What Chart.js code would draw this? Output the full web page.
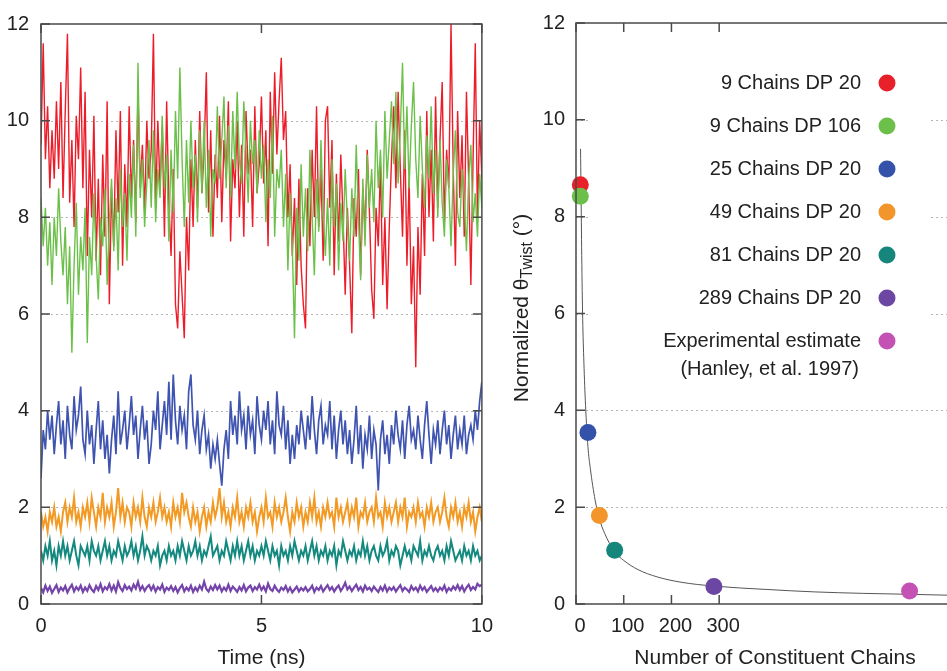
<!DOCTYPE html>
<html>
<head>
<meta charset="utf-8">
<script src="https://cdn.jsdelivr.net/npm/chart.js@4.4.0/dist/chart.umd.min.js"></script>
<style>
  html, body { margin: 0; padding: 0; background: #fff; overflow: hidden; }
  body { width: 947px; height: 671px; position: relative; }
  #left { position: absolute; left: 0; top: 0; }
  #right { position: absolute; left: 490px; top: 0; }
</style>
</head>
<body>
<canvas id="left" width="503" height="671"></canvas>
<canvas id="right" width="510" height="671"></canvas>
<script>
// ---- left panel: twist angle vs time, one sample every 0.05 ns ----
const TIME_STEP = 0.05;

const red9dp20 = [
  9.5, 11.6, 9.2, 10.3, 8.6, 9.8, 8.8, 10.4, 9.0, 10.8,
  8.4, 10.2, 11.8, 8.3, 9.6, 7.8, 10.1, 9.2, 11.1, 8.6,
  10.6, 7.2, 9.4, 8.0, 10.1, 7.1, 8.8, 6.8, 9.3, 7.6,
  10.4, 6.2, 8.6, 7.4, 9.8, 8.1, 10.2, 7.0, 9.1, 7.8,
  10.3, 8.4, 9.6, 7.9, 10.6, 8.6, 9.5, 8.1, 10.0, 8.8,
  9.4, 11.8, 8.2, 10.0, 8.6, 9.9, 7.6, 10.4, 8.3, 7.2,
  9.0, 6.2, 5.7, 7.3, 6.4, 5.5, 8.0, 6.9, 9.2, 7.8,
  9.6, 8.2, 10.2, 8.5, 9.4, 11.0, 8.1, 9.8, 7.6, 9.3,
  8.4, 10.1, 7.9, 9.6, 8.8, 10.4, 7.5, 9.2, 8.6, 10.0,
  8.0, 9.5, 7.6, 10.2, 8.9, 9.4, 7.8, 10.3, 8.5, 9.1,
  10.5, 8.7, 9.8, 7.4, 10.6, 8.9, 11.0, 9.3, 10.4, 11.3,
  9.6, 10.2, 8.0, 9.1, 7.2, 8.4, 6.6, 8.8, 7.0, 6.2,
  5.7, 8.6, 7.4, 9.4, 8.0, 10.3, 7.8, 9.0, 7.1, 10.0,
  10.3, 8.2, 9.6, 6.8, 8.9, 7.5, 9.3, 8.0, 6.4, 8.2,
  7.0, 5.6, 8.4, 7.6, 9.0, 6.8, 8.6, 7.7, 9.4, 8.1,
  6.5, 5.9, 8.2, 7.4, 9.1, 6.6, 8.0, 6.1, 7.8, 9.2,
  10.3, 8.6, 10.6, 9.0, 7.6, 9.8, 7.0, 8.8, 6.2, 7.4,
  4.9, 7.8, 6.4, 8.9, 7.2, 10.2, 8.0, 9.4, 7.5, 10.5,
  8.2, 9.6, 10.8, 7.9, 9.4, 8.6, 12.0, 9.0, 7.0, 10.2,
  8.4, 9.7, 7.6, 10.6, 8.8, 6.6, 9.2, 11.6, 8.0, 10.0,
  8.8
];

const green9dp106 = [
  8.4, 7.4, 8.2, 7.0, 7.9, 6.6, 8.0, 7.2, 8.6, 7.5,
  6.8, 7.8, 6.2, 7.4, 5.2, 7.0, 8.3, 6.4, 7.6, 6.9,
  8.2, 5.4, 7.6, 6.8, 8.5, 7.2, 6.3, 8.0, 7.4, 8.6,
  6.6, 7.9, 8.8, 7.3, 8.4, 6.9, 9.0, 7.8, 8.5, 7.1,
  8.9, 8.0, 9.5, 7.6, 11.2, 8.4, 9.2, 7.8, 8.7, 9.6,
  8.2, 9.8, 7.9, 9.0, 8.4, 10.1, 8.6, 9.3, 7.5, 9.4,
  8.1, 10.2, 8.8, 11.1, 9.2, 7.8, 9.6, 8.3, 10.0, 8.6,
  9.3, 7.9, 9.8, 8.5, 10.0, 8.2, 9.4, 7.6, 9.0, 8.7,
  10.3, 8.8, 9.6, 10.5, 8.6, 9.9, 8.4, 10.2, 9.0, 10.6,
  9.2, 8.7, 10.4, 9.4, 8.3, 10.0, 9.1, 9.6, 8.5, 9.8,
  8.8, 9.5, 7.9, 9.2, 8.4, 10.1, 7.6, 9.0, 8.6, 9.4,
  7.8, 8.9, 6.9, 8.5, 7.4, 5.5, 8.2, 7.1, 9.1, 7.6,
  8.6, 7.3, 9.4, 8.0, 6.8, 8.8, 7.7, 9.6, 8.1, 7.2,
  8.4, 7.0, 9.2, 7.8, 8.7, 6.9, 8.3, 7.5, 9.0, 7.9,
  7.1, 8.6, 7.6, 9.5, 8.0, 6.7, 8.8, 7.4, 9.3, 8.2,
  9.0, 7.9, 10.0, 8.6, 9.4, 8.0, 10.2, 8.8, 9.6, 10.4,
  9.1, 10.6, 8.7, 9.8, 11.2, 9.0, 10.3, 8.6, 9.9, 10.8,
  9.2, 8.4, 10.1, 9.0, 8.2, 9.7, 8.8, 10.3, 8.5, 9.4,
  8.0, 9.6, 8.3, 7.6, 9.2, 8.6, 7.4, 8.9, 9.8, 8.1,
  7.8, 9.0, 8.4, 7.3, 8.8, 9.5, 7.9, 8.5, 7.6, 8.9,
  8.2
];

const blue25dp20 = [
  2.6, 3.6, 3.2, 4.0, 3.4, 3.9, 3.1, 3.7, 4.2, 3.3,
  3.8, 3.0, 4.1, 3.5, 3.2, 4.3, 3.6, 3.9, 4.5, 3.4,
  3.1, 4.0, 3.3, 3.7, 2.9, 3.6, 4.2, 3.2, 3.8, 3.0,
  3.5, 2.7, 3.4, 3.9, 3.1, 4.4, 3.3, 3.6, 4.0, 3.2,
  3.7, 4.3, 3.5, 3.9, 3.0, 3.6, 4.1, 3.4, 3.8, 2.9,
  3.3, 4.0, 3.6, 4.4, 3.2, 3.7, 4.2, 3.5, 4.6, 3.4,
  4.75, 3.8, 3.3, 4.1, 3.6, 3.9, 3.2, 4.4, 4.75, 3.7,
  3.4, 4.0, 3.1, 3.6, 3.9, 3.2, 3.5, 2.8, 3.3, 3.0,
  3.4, 2.9, 2.45, 3.2, 3.6, 3.0, 4.2, 3.5, 3.9, 3.3,
  4.4, 3.6, 3.9, 3.2, 4.1, 3.5, 3.8, 3.1, 4.3, 3.7,
  3.4, 4.0, 3.6, 4.2, 3.3, 3.8, 3.1, 4.4, 3.7, 3.5,
  4.1, 3.2, 3.8, 2.9, 3.5, 3.0, 3.7, 3.3, 4.0, 3.6,
  3.2, 3.9, 3.4, 4.3, 3.6, 3.1, 3.8, 4.1, 3.3, 3.7,
  3.5, 4.2, 3.2, 3.9, 3.0, 3.6, 4.0, 3.3, 3.8, 3.1,
  3.6, 2.9, 3.4, 4.1, 3.1, 3.7, 2.8, 3.5, 3.2, 3.9,
  3.0, 3.6, 3.3, 2.35, 3.4, 3.8, 3.1, 3.5, 2.9, 3.7,
  3.3, 4.0, 3.5, 3.2, 3.8, 3.0, 3.7, 4.1, 3.4, 3.6,
  3.2, 3.9, 3.4, 3.0, 3.7, 4.2, 3.5, 2.9, 3.6, 3.3,
  3.8, 3.1, 3.6, 4.0, 3.3, 3.7, 3.0, 3.5, 3.9, 3.2,
  3.6, 3.3, 3.9, 3.1, 3.5, 3.7, 3.4, 4.0, 3.6, 4.2,
  4.6
];

const orange49dp20 = [
  1.9, 1.6, 1.8, 1.5, 1.9, 1.7, 2.0, 1.6, 1.8, 1.5,
  1.9, 2.1, 1.7, 2.0, 1.8, 2.2, 1.7, 1.9, 1.6, 2.0,
  1.8, 2.1, 1.7, 2.2, 1.9, 1.6, 2.0, 1.8, 2.3, 1.7,
  2.0, 1.8, 2.1, 1.6, 1.9, 2.4, 1.8, 2.1, 1.7, 2.0,
  1.9, 1.6, 2.1, 1.8, 2.0, 1.7, 2.2, 1.8, 1.6, 2.0,
  1.8, 2.1, 1.7, 1.9, 2.2, 1.8, 2.0, 1.7, 1.9, 1.6,
  2.1, 1.8, 2.0, 1.7, 2.3, 1.9, 2.1, 1.8, 1.6, 2.0,
  1.7, 1.9, 1.5, 1.8, 2.0, 1.6, 1.9, 1.7, 2.1, 1.8,
  2.0, 2.4, 1.8, 2.1, 1.7, 1.9, 1.6, 2.0, 1.8, 2.2,
  1.7, 1.9, 1.6, 2.0, 1.8, 2.1, 1.7, 1.9, 1.5, 1.8,
  2.0, 1.7, 2.2, 1.8, 1.9, 1.6, 2.1, 1.8, 2.0, 1.7,
  1.9, 2.2, 1.8, 1.5, 1.9, 1.7, 2.1, 1.8, 2.0, 1.6,
  1.9, 1.7, 2.1, 1.8, 2.2, 1.7, 1.9, 1.6, 2.0, 1.8,
  2.1, 1.8, 1.9, 1.6, 2.2, 1.8, 2.0, 1.7, 1.9, 2.1,
  1.7, 2.0, 1.8, 2.2, 1.6, 1.9, 1.8, 2.1, 1.7, 1.9,
  2.0, 1.7, 2.2, 1.8, 1.9, 1.6, 2.1, 1.8, 2.0, 1.7,
  1.9, 2.1, 1.7, 2.0, 1.8, 2.2, 1.6, 1.9, 1.8, 2.0,
  1.7, 2.1, 1.8, 1.9, 1.6, 2.0, 1.8, 2.1, 1.7, 1.9,
  2.0, 1.7, 1.9, 2.2, 1.8, 1.6, 2.0, 1.8, 2.1, 1.7,
  1.9, 1.6, 2.0, 1.8, 2.1, 1.7, 1.9, 1.5, 1.8, 2.0,
  1.7
];

const teal81dp20 = [
  1.1, 0.9, 1.2, 1.0, 1.3, 0.9, 1.1, 0.8, 1.2, 1.0,
  1.3, 1.0, 1.2, 0.9, 1.1, 1.3, 1.0, 0.8, 1.2, 1.1,
  1.0, 1.2, 0.9, 1.3, 1.1, 1.0, 1.2, 0.9, 1.1, 1.3,
  1.0, 1.2, 0.9, 1.1, 1.0, 1.3, 1.1, 0.9, 1.2, 1.0,
  1.1, 1.3, 1.0, 1.2, 0.9, 1.1, 1.4, 1.0, 1.2, 1.1,
  0.9, 1.1, 1.0, 1.2, 0.8, 1.0, 1.1, 0.9, 1.2, 1.0,
  1.1, 0.9, 1.2, 1.0, 1.3, 1.1, 0.9, 1.2, 1.0, 1.1,
  1.3, 1.0, 1.2, 0.9, 1.1, 1.0, 1.2, 1.4, 1.0, 1.1,
  1.2, 0.9, 1.1, 1.0, 1.3, 1.1, 0.9, 1.2, 1.0, 1.3,
  1.0, 1.2, 0.9, 1.1, 1.3, 1.0, 1.2, 0.9, 1.1, 1.0,
  1.2, 1.0, 1.3, 1.1, 0.9, 1.2, 1.0, 1.1, 0.8, 1.2,
  1.0, 1.1, 0.9, 1.2, 1.0, 1.3, 1.1, 0.9, 1.1, 1.0,
  1.2, 0.9, 1.1, 1.3, 1.0, 1.2, 0.9, 1.1, 1.0, 1.2,
  0.9, 1.1, 1.0, 1.2, 0.8, 1.1, 1.0, 1.3, 1.1, 0.9,
  1.1, 1.0, 1.2, 0.9, 1.1, 1.0, 1.3, 1.0, 1.2, 0.9,
  1.1, 1.2, 1.0, 0.9, 1.2, 1.0, 1.1, 1.3, 0.9, 1.1,
  1.0, 1.2, 1.1, 0.8, 1.0, 1.2, 1.0, 1.1, 0.9, 1.2,
  1.1, 1.0, 1.3, 0.9, 1.1, 1.0, 1.2, 1.0, 0.9, 1.1,
  1.2, 1.0, 1.1, 0.9, 1.2, 1.0, 1.3, 1.1, 0.9, 1.0,
  1.1, 0.9, 1.2, 1.0, 1.1, 0.9, 1.2, 1.0, 1.1, 0.9,
  1.0
];

const purple289dp20 = [
  0.33, 0.24, 0.38, 0.27, 0.36, 0.23, 0.31, 0.39, 0.25, 0.34,
  0.28, 0.37, 0.24, 0.33, 0.40, 0.26, 0.35, 0.29, 0.38, 0.25,
  0.34, 0.27, 0.39, 0.30, 0.25, 0.37, 0.29, 0.41, 0.26, 0.35,
  0.30, 0.41, 0.28, 0.38, 0.26, 0.45, 0.33, 0.27, 0.39, 0.31,
  0.36, 0.28, 0.40, 0.32, 0.46, 0.29, 0.37, 0.27, 0.35, 0.39,
  0.29, 0.38, 0.26, 0.35, 0.30, 0.40, 0.25, 0.34, 0.29, 0.37,
  0.27, 0.35, 0.24, 0.33, 0.39, 0.26, 0.34, 0.28, 0.38, 0.25,
  0.34, 0.27, 0.38, 0.30, 0.46, 0.31, 0.26, 0.36, 0.29, 0.39,
  0.30, 0.38, 0.26, 0.34, 0.28, 0.40, 0.27, 0.36, 0.31, 0.25,
  0.35, 0.28, 0.39, 0.26, 0.34, 0.38, 0.27, 0.35, 0.30, 0.40,
  0.29, 0.36, 0.26, 0.42, 0.31, 0.27, 0.38, 0.30, 0.25, 0.34,
  0.29, 0.37, 0.26, 0.34, 0.24, 0.30, 0.36, 0.26, 0.33, 0.28,
  0.35, 0.26, 0.31, 0.38, 0.25, 0.34, 0.29, 0.37, 0.26, 0.33,
  0.39, 0.29, 0.35, 0.26, 0.33, 0.38, 0.27, 0.34, 0.44, 0.30,
  0.36, 0.27, 0.34, 0.40, 0.29, 0.35, 0.26, 0.38, 0.30, 0.34,
  0.27, 0.36, 0.30, 0.25, 0.35, 0.28, 0.38, 0.26, 0.34, 0.29,
  0.35, 0.26, 0.33, 0.39, 0.27, 0.34, 0.30, 0.25, 0.37, 0.29,
  0.34, 0.26, 0.38, 0.29, 0.35, 0.25, 0.31, 0.37, 0.27, 0.33,
  0.26, 0.34, 0.29, 0.38, 0.25, 0.33, 0.28, 0.36, 0.30, 0.39,
  0.29, 0.37, 0.26, 0.34, 0.40, 0.29, 0.35, 0.30, 0.42, 0.37,
  0.40
];

// ---- right panel: mean twist vs number of chains ----
const seriesNames = [
  "9 Chains DP 20", "9 Chains DP 106", "25 Chains DP 20", "49 Chains DP 20",
  "81 Chains DP 20", "289 Chains DP 20", "Experimental estimate"
];
const chainCounts = [9, 9, 25, 49, 81, 289, 699];
const meanTwist = [8.66, 8.42, 3.54, 1.83, 1.11, 0.36, 0.27];
const colors = ["#e8202a", "#6cc04a", "#3552aa", "#f2962b", "#16867c", "#6b46a2", "#c452b4"];

// fitted curve
const fitX = [9.5, 10.5, 12, 14, 16.5, 20, 25, 30, 40, 49, 60, 81, 100, 130, 170, 220, 289, 400, 500, 600, 700, 834];
const fitY = [9.4, 8.6, 7.2, 5.9, 5.0, 4.1, 3.25, 2.8, 2.15, 1.76, 1.46, 1.08, 0.9, 0.71, 0.56, 0.45, 0.37, 0.3, 0.25, 0.22, 0.2, 0.17];

const leftTicksX = [0, 5, 10];
const yTicks = [0, 2, 4, 6, 8, 10, 12];
const rightTicksX = [0, 100, 200, 300];

const FONT = '"Liberation Sans", Arial, sans-serif';
const TEXT = "#222";

Chart.defaults.font.family = FONT;
Chart.defaults.color = TEXT;

const asPoints = (arr) => arr.map((v, i) => ({ x: i * TIME_STEP, y: v }));

function trace(data, color, width) {
  return {
    data: asPoints(data),
    showLine: true,
    borderColor: color,
    borderWidth: width,
    pointRadius: 0,
    tension: 0
  };
}

// dotted grid, frame and inward ticks (gnuplot look)
const framePlugin = {
  id: "frame",
  beforeDatasetsDraw(chart, args, opts) {
    const { ctx, chartArea: a, scales } = chart;
    ctx.save();
    ctx.strokeStyle = "#b5b5b5";
    ctx.lineWidth = 1;
    ctx.setLineDash([2, 3]);
    opts.gridY.forEach((v) => {
      const py = Math.round(scales.y.getPixelForValue(v)) + 0.5;
      ctx.beginPath();
      ctx.moveTo(a.left, py);
      ctx.lineTo(a.right, py);
      ctx.stroke();
    });
    ctx.restore();
    if (opts.legendBox) {
      const b = opts.legendBox;
      ctx.save();
      ctx.fillStyle = "#fff";
      ctx.fillRect(b[0], b[1], b[2], b[3]);
      ctx.restore();
    }
  },
  afterDatasetsDraw(chart, args, opts) {
    const { ctx, chartArea: a, scales } = chart;
    const len = 9;
    ctx.save();
    ctx.strokeStyle = "#4a4a4a";
    ctx.lineWidth = 1.5;
    ctx.beginPath();
    opts.ticksY.forEach((v) => {
      const py = scales.y.getPixelForValue(v);
      ctx.moveTo(a.left, py); ctx.lineTo(a.left + len, py);
      ctx.moveTo(a.right, py); ctx.lineTo(a.right - len, py);
    });
    opts.ticksX.forEach((v) => {
      const px = scales.x.getPixelForValue(v);
      ctx.moveTo(px, a.bottom); ctx.lineTo(px, a.bottom - len);
      ctx.moveTo(px, a.top); ctx.lineTo(px, a.top + len);
    });
    ctx.stroke();
    ctx.strokeRect(a.left, a.top, a.right - a.left, a.bottom - a.top);
    ctx.restore();
  }
};

new Chart(document.getElementById("left"), {
  type: "scatter",
  data: {
    datasets: [
      trace(purple289dp20, "#7444aa", 2.2),
      trace(teal81dp20, "#14897f", 2),
      trace(orange49dp20, "#f39a25", 2),
      trace(blue25dp20, "#3f54b0", 1.7),
      trace(green9dp106, "#6cc04a", 1.4),
      trace(red9dp20, "#ec1c28", 1.4)
    ]
  },
  options: {
    responsive: false,
    animation: false,
    devicePixelRatio: 1,
    events: [],
    layout: { padding: { top: 20, right: 0, left: 0, bottom: 0 } },
    plugins: {
      legend: { display: false },
      tooltip: { enabled: false },
      frame: { gridY: [2, 4, 6, 8, 10], ticksY: yTicks, ticksX: leftTicksX }
    },
    scales: {
      x: {
        type: "linear", min: 0, max: 10,
        grid: { display: false, drawTicks: false },
        border: { display: false },
        ticks: { stepSize: 5, padding: 10, maxRotation: 0, autoSkip: false, font: { size: 20 } },
        title: { display: true, text: "Time (ns)", font: { size: 21 }, padding: { top: 4, bottom: 0 } },
        afterFit: (s) => { s.height = 67; }
      },
      y: {
        min: 0, max: 12,
        grid: { display: false, drawTicks: false },
        border: { display: false },
        ticks: { stepSize: 2, padding: 12, font: { size: 20 } },
        afterFit: (s) => { s.width = 41; }
      }
    }
  },
  plugins: [framePlugin]
});

// legend on the right panel, drawn as text with a dot to the right
const legendPlugin = {
  id: "dotLegend",
  afterDraw(chart) {
    const { ctx } = chart;
    const rowY = [83, 126, 169, 212, 255, 298, 341];
    ctx.save();
    ctx.font = "20px " + FONT;
    ctx.fillStyle = TEXT;
    ctx.textAlign = "right";
    ctx.textBaseline = "middle";
    seriesNames.forEach((name, i) => {
      ctx.fillStyle = TEXT;
      ctx.fillText(name, 371, rowY[i]);
      ctx.fillStyle = colors[i];
      ctx.beginPath();
      ctx.arc(397, rowY[i], 8.5, 0, Math.PI * 2);
      ctx.fill();
    });
    ctx.fillStyle = TEXT;
    ctx.fillText("(Hanley, et al. 1997)", 369, 369);

    // y title with subscript
    ctx.translate(32, 308);
    ctx.rotate(-Math.PI / 2);
    ctx.textAlign = "left";
    ctx.textBaseline = "middle";
    const big = "21px " + FONT, small = "16px " + FONT;
    ctx.font = big; const w1 = ctx.measureText("Normalized \u03b8").width;
    ctx.font = small; const w2 = ctx.measureText("Twist").width;
    ctx.font = big; const w3 = ctx.measureText(" (\u00b0)").width;
    let x0 = -(w1 + w2 + w3) / 2;
    ctx.font = big; ctx.fillText("Normalized \u03b8", x0, 0);
    ctx.font = small; ctx.fillText("Twist", x0 + w1, 6);
    ctx.font = big; ctx.fillText(" (\u00b0)", x0 + w1 + w2, 0);
    ctx.restore();
  }
};

new Chart(document.getElementById("right"), {
  type: "scatter",
  data: {
    datasets: [
      {
        data: chainCounts.map((c, i) => ({ x: c, y: meanTwist[i] })),
        pointRadius: 8.5,
        pointBorderWidth: 0,
        pointBackgroundColor: colors,
        clip: false,
        order: 1
      },
      {
        data: fitX.map((x, i) => ({ x: x, y: fitY[i] })),
        showLine: true,
        borderColor: "#555",
        borderWidth: 1,
        pointRadius: 0,
        cubicInterpolationMode: "monotone",
        order: 2
      }
    ]
  },
  options: {
    responsive: false,
    animation: false,
    devicePixelRatio: 1,
    events: [],
    layout: { padding: { top: 20, right: 26, left: 0, bottom: 0 } },
    plugins: {
      legend: { display: false },
      tooltip: { enabled: false },
      frame: { gridY: [2, 4, 6, 8, 10], ticksY: yTicks, ticksX: rightTicksX, legendBox: [100, 40, 338, 352] }
    },
    scales: {
      x: {
        type: "linear", min: 0, max: 834,
        grid: { display: false, drawTicks: false },
        border: { display: false },
        ticks: {
          stepSize: 100, padding: 10, maxRotation: 0, autoSkip: false, labelOffset: 4,
          font: { size: 20 },
          callback: (v) => (rightTicksX.includes(v) ? String(v) : "")
        },
        title: { display: true, text: "Number of Constituent Chains", font: { size: 21 }, padding: { top: 4, bottom: 0 } },
        afterFit: (s) => { s.height = 67; }
      },
      y: {
        min: 0, max: 12,
        grid: { display: false, drawTicks: false },
        border: { display: false },
        ticks: { stepSize: 2, padding: 11, font: { size: 20 } },
        afterFit: (s) => { s.width = 86; }
      }
    }
  },
  plugins: [framePlugin, legendPlugin]
});
</script>
</body>
</html>
